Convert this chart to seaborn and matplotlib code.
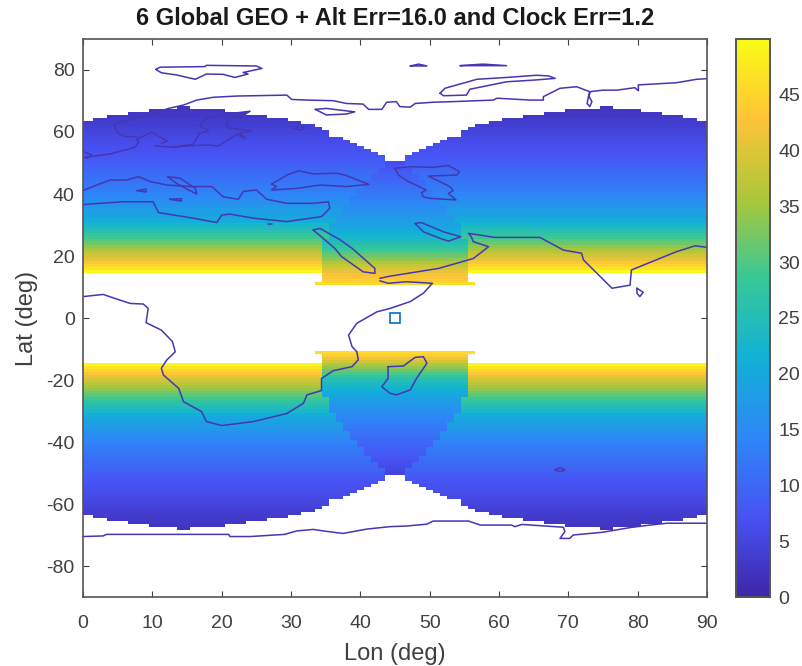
import numpy as np
import pandas as pd
import matplotlib
matplotlib.use("Agg")
import matplotlib.pyplot as plt
from matplotlib.colors import LinearSegmentedColormap
import seaborn as sns

# Error value per absolute latitude, outside the overlap lens (15..68 deg)
outer_lats = list(range(15, 69))
outer_vals = [49.5, 47, 45, 43, 41, 39, 37, 35.5, 34, 32, 30.5, 29, 27.5, 26, 24.5, 23, 21, 20,
              19, 18.5, 18, 17, 16.2, 15.5, 14.8, 14, 13.2, 12.7, 12.2, 11.7, 11.2, 10.8, 10.4,
              9.8, 9.2, 8.7, 8.2, 7.6, 7.3, 7, 6.7, 6.4, 6.1, 5.7, 5.3, 4.9, 4.5, 4.1, 3.7, 3.4,
              3.1, 2.8, 2.5, 2.2]

# Inside the lens (11..50 deg), plus its western edge; the eastern edge mirrors about 45
lens_lats = list(range(11, 51))
lens_north = [46, 44, 43, 42, 41, 39.5, 38, 36, 34, 32, 30, 28.5, 27, 25.5, 24, 23, 22, 21, 20, 19,
              18.3, 17.6, 17, 16.3, 15.7, 15, 14.3, 13.7, 13, 12.4, 11.8, 11.2, 10.7, 10.1, 9.5,
              9, 8.4, 7.8, 7.2, 6.6]
lens_south = [46, 44, 41.5, 39, 36.5, 34, 31.5, 29.5, 27.5, 25.5, 24, 22.5, 21.5, 20.5, 19.5, 18.5,
              17.7, 17, 16.3, 15.6, 15, 14.3, 13.8, 13.2, 12.7, 12.2, 11.6, 11, 10.5, 10, 9.5, 9,
              8.5, 8, 7.5, 7, 6.5, 6, 5.5, 5]
lens_edge = [34, 35, 35, 35, 35, 35, 35, 35, 35, 35, 35, 35, 35, 35, 35, 36, 36, 36, 36, 36, 37,
             37, 37, 38, 38, 38, 39, 39, 39, 40, 40, 41, 41, 41, 42, 42, 43, 43, 44, 44]

# Highest covered latitude for lon 0..45; lon 46..90 mirrors it
cap_lat = [63, 63, 64, 64, 65, 65, 65, 66, 66, 66, 67, 67, 67, 67, 68, 68, 67, 67, 67, 67, 67,
           66, 66, 66, 65, 65, 65, 64, 64, 64, 63, 63, 62, 62, 61, 60, 58, 58, 57, 56, 55, 54,
           53, 52, 50, 50]

cbar_ticks = [0, 5, 10, 15, 20, 25, 30, 35, 40, 45]
lon_ticks = [0, 10, 20, 30, 40, 50, 60, 70, 80, 90]
lat_ticks = [80, 60, 40, 20, 0, -20, -40, -60, -80]

parula = [(0.2422, 0.1504, 0.6603), (0.2810, 0.3228, 0.9579), (0.1786, 0.5289, 0.9682),
          (0.0689, 0.6948, 0.8394), (0.2161, 0.7843, 0.5923), (0.6720, 0.7793, 0.2227),
          (0.9970, 0.7659, 0.2199), (0.9769, 0.9839, 0.0805)]

# Coastlines as (lon, lat)
svalbard = [(10.5, 80.2), (11.3, 79.1), (13.5, 78.4), (16.2, 77), (17.8, 78.7), (20.2, 78.6),
            (21.9, 77.6), (23.8, 78.7), (23.1, 79.2), (25.8, 80.5), (25, 81.3), (17.8, 81.5),
            (17.6, 81.1), (11.1, 80.9), (10.5, 80.2)]
north_coast = [(7.7, 58.5), (6.1, 58.5), (5.1, 59.6), (4.4, 62.3), (7, 64.4), (10.1, 65.8),
               (12.3, 67.6), (14.5, 68.7), (16.4, 70.3), (18.8, 71.2), (22.2, 71.6), (29.4, 71.9),
               (30.1, 70.5), (32.3, 70.3), (36.1, 70.1), (38, 69.2), (40.4, 69), (41.2, 67.3),
               (43.1, 67.3), (43.8, 69.6), (45.2, 69.8), (45.7, 68.2), (47.2, 68), (47.9, 69.2),
               (50.5, 69.6), (53.4, 69.8), (59.2, 70.3), (59.7, 70.9), (64.5, 70.3), (66.4, 70.3),
               (66.4, 71.4), (68.8, 74.1), (71.2, 74.6), (73.1, 73), (75, 73.5), (77, 73.5),
               (79.6, 74.3), (80.1, 73.3), (80.1, 75.2), (85.6, 75.9), (88.5, 77), (90, 77.2)]
ob_gulf = [(73.1, 73), (73, 71.4), (73.4, 69.8), (73.1, 68.2), (72.7, 69.2), (72.9, 71.4), (73.1, 73)]
west_europe = [(0.1, 51.8), (3.9, 52.9), (7.5, 55.1), (8.1, 56.9), (7.7, 57.7), (9.9, 59.9),
               (12.2, 57.1), (11.3, 56.3)]
uk_bit = [(0, 53.7), (1.25, 52.6), (0.5, 51.5)]
baltic = [(10.4, 55.5), (13, 55.1), (15.9, 56.1), (16.8, 59.6), (18.1, 60.4), (16.9, 61.9),
          (17.6, 64.1), (20.7, 65.8), (24.1, 66.7), (23.1, 65.4), (21, 64.4), (20.7, 61.5),
          (24.3, 60.3), (22.6, 59.6), (23.4, 58), (22.2, 59.2), (21, 57.6), (19.5, 55.5),
          (17.8, 55.8), (15, 55.5), (13, 55.1)]
ladoga = [(30.6, 61.2), (31.3, 61.9), (32, 61.4), (31.3, 60.6), (30.6, 61.2)]
white_sea = [(33.5, 67.3), (35.1, 67.6), (39.2, 66.5), (38, 65.8), (35.1, 65.5), (33.5, 67.3)]
novaya = [(51.5, 72.5), (52.2, 74.1), (56.8, 77), (61.1, 77.6), (65.4, 78.3), (67.1, 78.1),
          (68.1, 77.3), (65.4, 76.8), (61.1, 76.2), (55.8, 73.8), (55.3, 71.9), (52, 71.7), (51.5, 72.5)]
franz_a = [(47.2, 81.3), (48.4, 81.9), (49.6, 81.3), (47.2, 81.3)]
franz_b = [(54.4, 81.4), (57.7, 81.9), (61.1, 81.4), (54.4, 81.4)]
mediterranean = [(0, 41.1), (2, 42.9), (3.9, 44.5), (6.3, 44.5), (8, 45.6), (9.7, 44), (12.1, 42.9),
                 (15.4, 42.4), (18.6, 42.4), (20.2, 39.1), (22.4, 38.3), (23.1, 40.8), (25, 41.3),
                 (26.5, 38.3), (29.4, 37), (33.2, 37), (35.4, 37.5), (35.6, 35.4), (34.4, 32.7),
                 (29.4, 31.1), (24.6, 32.2), (21.2, 33.5), (20, 33.2), (19.3, 30.8), (15.9, 32.2),
                 (10.9, 34), (10.1, 37.5), (5.8, 37.5), (0.5, 36.7), (0, 36.5)]
adriatic = [(12.2, 45.6), (14, 45.1), (16.2, 41.8), (16.4, 40), (15.4, 41.1), (13.5, 43.4), (12.2, 45.6)]
sardinia = [(7.8, 41.1), (9.1, 41.6), (9.1, 40.6), (7.8, 41.1)]
sicily = [(12.5, 38.3), (14.2, 38.5), (14.2, 37.7), (12.5, 38.3)]
crete = [(26.7, 30.2), (27.2, 30.2)]
black_sea = [(27.2, 43.2), (29.4, 46.1), (31.1, 47.5), (33.2, 46.5), (36.6, 46.7), (37.8, 46.1),
             (41.2, 43.1), (38, 42.4), (34.2, 42.9), (30.8, 41.8), (27.2, 41.3), (27.9, 42.4), (27.2, 43.2)]
caspian = [(45, 48.3), (47.2, 48.8), (50.5, 48.6), (52.7, 49.2), (54.3, 47.2), (53.9, 46.1),
           (49.8, 45.8), (52.9, 42.4), (53.4, 41.1), (52.7, 40.2), (53.8, 38.1), (50, 38.6),
           (49.1, 39.1), (48.8, 40.4), (49.5, 41.3), (46.7, 44.3), (45.5, 46.1), (45, 48.3)]
persian_gulf = [(47.9, 30.5), (48.8, 30.8), (52, 27.8), (54.5, 26.2), (52.7, 24.8), (51.5, 25.7),
                (49.1, 27.8), (47.9, 30.5)]
red_sea = [(33.2, 28.4), (34.2, 28.9), (37.1, 25.2), (38.8, 22.5), (42.1, 16), (42.1, 14.4),
           (40.4, 14.9), (37.3, 19.8), (36.3, 22.5), (34.9, 25.2), (33.2, 28.4)]
arabia_india = [(42.8, 12.8), (44.3, 13.5), (51.3, 16), (56.3, 19.2), (58.5, 23), (56.3, 24.6),
                (56, 26.2), (55.6, 27.3), (59.4, 26), (65.9, 26), (69.3, 21.9), (71.9, 20.9),
                (72.2, 18.7), (76.3, 9.6), (78.9, 10.6), (79.1, 15.5), (85.6, 21.4), (88.3, 23.3),
                (90, 22.8)]
sri_lanka = [(79.9, 9.6), (80.8, 8.3), (80.3, 6.9), (79.9, 8), (79.9, 9.6)]
africa = [(42.8, 12), (44, 11.2), (46.7, 11.7), (50.4, 11.2), (49.1, 8), (47.2, 5.3), (44.3, 3.1),
          (42.4, 2), (39.5, -1.7), (38.3, -5.5), (38.8, -9.2), (39.5, -10.9), (39.7, -13.5),
          (38.8, -15.7), (36.1, -17), (34.4, -19.5), (34.4, -23.4), (32.3, -24.8), (31.8, -27.5),
          (29.4, -30.8), (24.6, -33.4), (20, -34.7), (17.8, -33.4), (17.1, -30.2), (14.5, -27),
          (13.8, -22.7), (11.6, -18.4), (11.3, -16.2), (12.1, -13.5), (13.3, -10.9), (12.9, -7.6),
          (11.3, -3.9), (9.1, -1.5), (9.4, 3.1), (8.7, 4.5), (6.8, 4.7), (5.3, 5.8), (2.9, 7.6), (0, 6.9)]
madagascar = [(44, -15.7), (46.2, -15.5), (47.9, -12.7), (49.1, -12.5), (49.6, -14.6), (48.1, -19.5),
              (47.2, -23.2), (45.2, -24.8), (44.3, -24.3), (43.1, -22.2), (44, -19.5), (44, -15.7)]
antarctica = [(0, -70.5), (2.9, -70.3), (3.4, -69.8), (21, -69.8), (21.2, -70.5), (24.1, -70.5),
              (29.1, -69.8), (30.8, -68.7), (33.2, -68.2), (34.7, -68.7), (37.5, -69.5), (40.9, -68.1),
              (44.3, -67.3), (46.7, -67.1), (49.6, -66.5), (50.5, -65.5), (55.6, -65.5), (57.3, -66.8),
              (61.8, -66.8), (62.3, -67.3), (63.3, -66.6), (69.3, -67.5), (69.5, -68.9), (68.8, -71.1),
              (70.2, -71.1), (70.7, -70), (75, -69.1), (78.9, -67.6), (81.8, -66.8), (84.2, -66.2),
              (90, -66.2)]
kerguelen = [(68.1, -49), (68.8, -48.3), (69.5, -49), (68.8, -49.6), (68.1, -49)]

coasts = [svalbard, north_coast, ob_gulf, west_europe, uk_bit, baltic, ladoga, white_sea, novaya,
          franz_a, franz_b, mediterranean, adriatic, sardinia, sicily, crete, black_sea, caspian,
          persian_gulf, red_sea, arabia_india, sri_lanka, africa, madagascar, antarctica, kerguelen]

# Build the grid from the read-off tables
lons = np.arange(0, 91)
lats = np.arange(90, -91, -1)
outer = dict(zip(outer_lats, outer_vals))
lens_n = dict(zip(lens_lats, lens_north))
lens_s = dict(zip(lens_lats, lens_south))
edge = dict(zip(lens_lats, lens_edge))
caps = cap_lat + cap_lat[-2::-1]

grid = np.full((len(lats), len(lons)), np.nan)
for i, lat in enumerate(lats):
    a = int(abs(lat))
    lens = lens_n if lat > 0 else lens_s
    for j, lon in enumerate(lons):
        if a in lens and edge[a] <= lon <= 90 - edge[a]:
            grid[i, j] = lens[a]
        elif a in outer and a <= caps[j]:
            grid[i, j] = outer[a]
df = pd.DataFrame(grid, index=lats, columns=lons)

sns.set_theme(style="white")
plt.rcParams['font.family'] = ['Liberation Sans', 'DejaVu Sans']
dark = '#404040'
frame = '#555555'
cmap = LinearSegmentedColormap.from_list('parula', parula, N=256)

fig = plt.figure(figsize=(8.03, 6.66), dpi=100)
ax = fig.add_axes([83 / 803, 1 - 597 / 666, 624 / 803, 558 / 666])
cax = fig.add_axes([736 / 803, 1 - 597 / 666, 34 / 803, 558 / 666])

sns.heatmap(df, ax=ax, cbar_ax=cax, cmap=cmap, vmin=0, vmax=50, xticklabels=False, yticklabels=False,
            cbar_kws={'ticks': cbar_ticks})
ax.set_xlim(0.5, 90.5)
ax.set_ylim(180.5, 0.5)

for coast in coasts:
    xy = np.array(coast)
    ax.plot(xy[:, 0] + 0.5, 90 - xy[:, 1] + 0.5, color='#4536b4', lw=1.1)
ax.plot([45.5], [90.5], marker='s', ms=7.5, mfc='none', mec='#0072BD', mew=1.2, ls='none')

ax.set_xticks(np.array(lon_ticks) + 0.5)
ax.set_xticklabels([str(v) for v in lon_ticks], rotation=0)
ax.set_yticks(90 - np.array(lat_ticks) + 0.5)
ax.set_yticklabels([str(v) for v in lat_ticks], rotation=0)
ax.tick_params(direction='in', length=4, width=0.8, color=dark, labelcolor=dark, labelsize=14,
               top=True, right=True, bottom=True, left=True)
ax.tick_params(axis='x', pad=13)
ax.tick_params(axis='y', pad=6)
ax.set_xlabel('Lon (deg)', fontsize=17, color=dark, labelpad=8)
ax.set_ylabel('Lat (deg)', fontsize=17, color=dark, labelpad=6)
ax.set_title('6 Global GEO + Alt Err=16.0 and Clock Err=1.2', fontsize=17, fontweight='bold',
             color='#1a1a1a', pad=10)
for s in ax.spines.values():
    s.set_visible(True)
    s.set_color(frame)
    s.set_linewidth(1.2)

cax.tick_params(direction='in', length=3, width=0.8, color=dark, labelcolor=dark, labelsize=14,
                right=True, left=False, pad=6)
for s in cax.spines.values():
    s.set_visible(True)
    s.set_color(frame)
    s.set_linewidth(1.2)

fig.savefig('out.png', dpi=100)
